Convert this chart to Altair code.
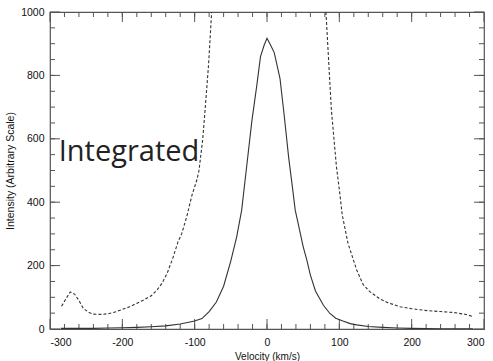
import altair as alt
import pandas as pd

# ---- data ----
solid_v = [-285, -260, -240, -220, -200, -180, -160, -140, -120, -100, -90, -80, -70,
           -60, -50, -42, -35, -28, -21, -14, -9, -4, 0, 4, 10, 18, 23.5, 30, 35,
           39, 42, 50, 55, 60, 67, 78, 87, 95, 105, 115, 124, 140, 160, 180, 200, 240, 285]
solid_i = [2, 2, 2, 3, 4, 5, 7, 10, 16, 25, 33, 55, 85,
           135, 215, 290, 375, 515, 655, 770, 859, 895, 917, 900, 872, 790, 680, 540, 450,
           375, 344, 260, 218, 170, 120, 75, 49, 34, 25, 17, 13, 8, 5, 3, 2, 1, 1]

dash_left_v = [-284, -278, -272, -266, -260, -254, -246, -240, -230, -220, -208, -190,
               -171, -160, -152, -145, -138, -130, -123, -118, -111, -104, -97, -94,
               -89, -86.5, -81, -76.5]
dash_left_i = [72, 95, 117, 110, 90, 65, 52, 47, 46, 48, 55, 70,
               91, 105, 123, 145, 176, 225, 275, 300, 354, 420, 470, 500,
               596, 665, 827, 1000]

dash_right_v = [81.5, 89, 96, 100, 104, 112, 124, 133, 142, 156, 166, 184, 200, 221,
                240, 258, 275, 285]
dash_right_i = [1000, 691, 512, 440, 360, 270, 186, 140, 118, 95, 84, 70, 64, 58,
                55, 52, 46, 39]

x_major = [-300, -200, -100, 0, 100, 200, 300]
x_minor = list(range(-280, 300, 20))
y_major = [0, 200, 400, 600, 800, 1000]
y_minor = list(range(50, 1000, 50))

note_text = ["Integrated"]
note_v = [-288]
note_i = [531]

W, H = 434, 317
MAJ, MIN = 10, 5
INK = "#333333"
FRAME = "#555555"
TXT = "#111111"

xs = alt.Scale(domain=[-300, 300], nice=False, zero=False)
ys = alt.Scale(domain=[0, 1000], nice=False, zero=False)

solid_df = pd.DataFrame({"v": solid_v, "i": solid_i})
dash_df = pd.concat([
    pd.DataFrame({"v": dash_left_v, "i": dash_left_i, "seg": "L"}),
    pd.DataFrame({"v": dash_right_v, "i": dash_right_i, "seg": "R"}),
])

xaxis = alt.Axis(values=x_major, ticks=False, tickSize=0, domain=False, grid=False,
                 labelExpr="toString(datum.value)",
                 labelFont="Liberation Sans", labelFontSize=10.5, labelColor=TXT,
                 labelPadding=8, title="Velocity (km/s)", titleFont="Liberation Sans",
                 titleFontSize=10, titleFontWeight="normal", titleColor=TXT,
                 titlePadding=4)
yaxis = alt.Axis(values=y_major, ticks=False, tickSize=0, domain=False, grid=False,
                 labelExpr="toString(datum.value)",
                 labelFont="Liberation Sans", labelFontSize=10.5, labelColor=TXT,
                 labelPadding=6, title="Intensity (Arbitrary Scale)",
                 titleFont="Liberation Sans", titleFontSize=10.5,
                 titleFontWeight="normal", titleColor=TXT, titlePadding=5)

solid = alt.Chart(solid_df).mark_line(color=INK, strokeWidth=1.1, clip=True).encode(
    x=alt.X("v:Q", scale=xs, axis=xaxis),
    y=alt.Y("i:Q", scale=ys, axis=yaxis),
)
dashed = alt.Chart(dash_df).mark_line(color=INK, strokeWidth=1.1, strokeDash=[3, 2],
                                      clip=True).encode(
    x=alt.X("v:Q", scale=xs),
    y=alt.Y("i:Q", scale=ys),
    detail="seg:N",
)


def xticks(vals, length):
    d = pd.DataFrame({"t": vals})
    bottom = alt.Chart(d).mark_rule(color=FRAME, strokeWidth=1).encode(
        x=alt.X("t:Q", scale=xs), y=alt.value(H), y2=alt.value(H - length))
    top = alt.Chart(d).mark_rule(color=FRAME, strokeWidth=1).encode(
        x=alt.X("t:Q", scale=xs), y=alt.value(0), y2=alt.value(length))
    return [bottom, top]


def yticks(vals, length):
    d = pd.DataFrame({"t": vals})
    left = alt.Chart(d).mark_rule(color=FRAME, strokeWidth=1).encode(
        y=alt.Y("t:Q", scale=ys), x=alt.value(0), x2=alt.value(length))
    right = alt.Chart(d).mark_rule(color=FRAME, strokeWidth=1).encode(
        y=alt.Y("t:Q", scale=ys), x=alt.value(W), x2=alt.value(W - length))
    return [left, right]


note = alt.Chart(pd.DataFrame({"v": note_v, "i": note_i, "t": note_text})).mark_text(
    font="Open Sans", fontSize=29, color="#222", align="left", baseline="alphabetic"
).encode(x=alt.X("v:Q", scale=xs), y=alt.Y("i:Q", scale=ys), text="t:N")

layers = (xticks(x_major, MAJ) + xticks(x_minor, MIN)
          + yticks(y_major, MAJ) + yticks(y_minor, MIN)
          + [dashed, solid, note])

chart = alt.layer(*layers).properties(
    width=W, height=H,
    autosize=alt.AutoSizeParams(type="none"),
    padding={"left": 50, "top": 12, "right": 9, "bottom": 32},
    background="white",
).configure_view(stroke=FRAME, strokeWidth=1.2)

chart.save("out.html", embed_options={"renderer": "svg", "actions": False})
